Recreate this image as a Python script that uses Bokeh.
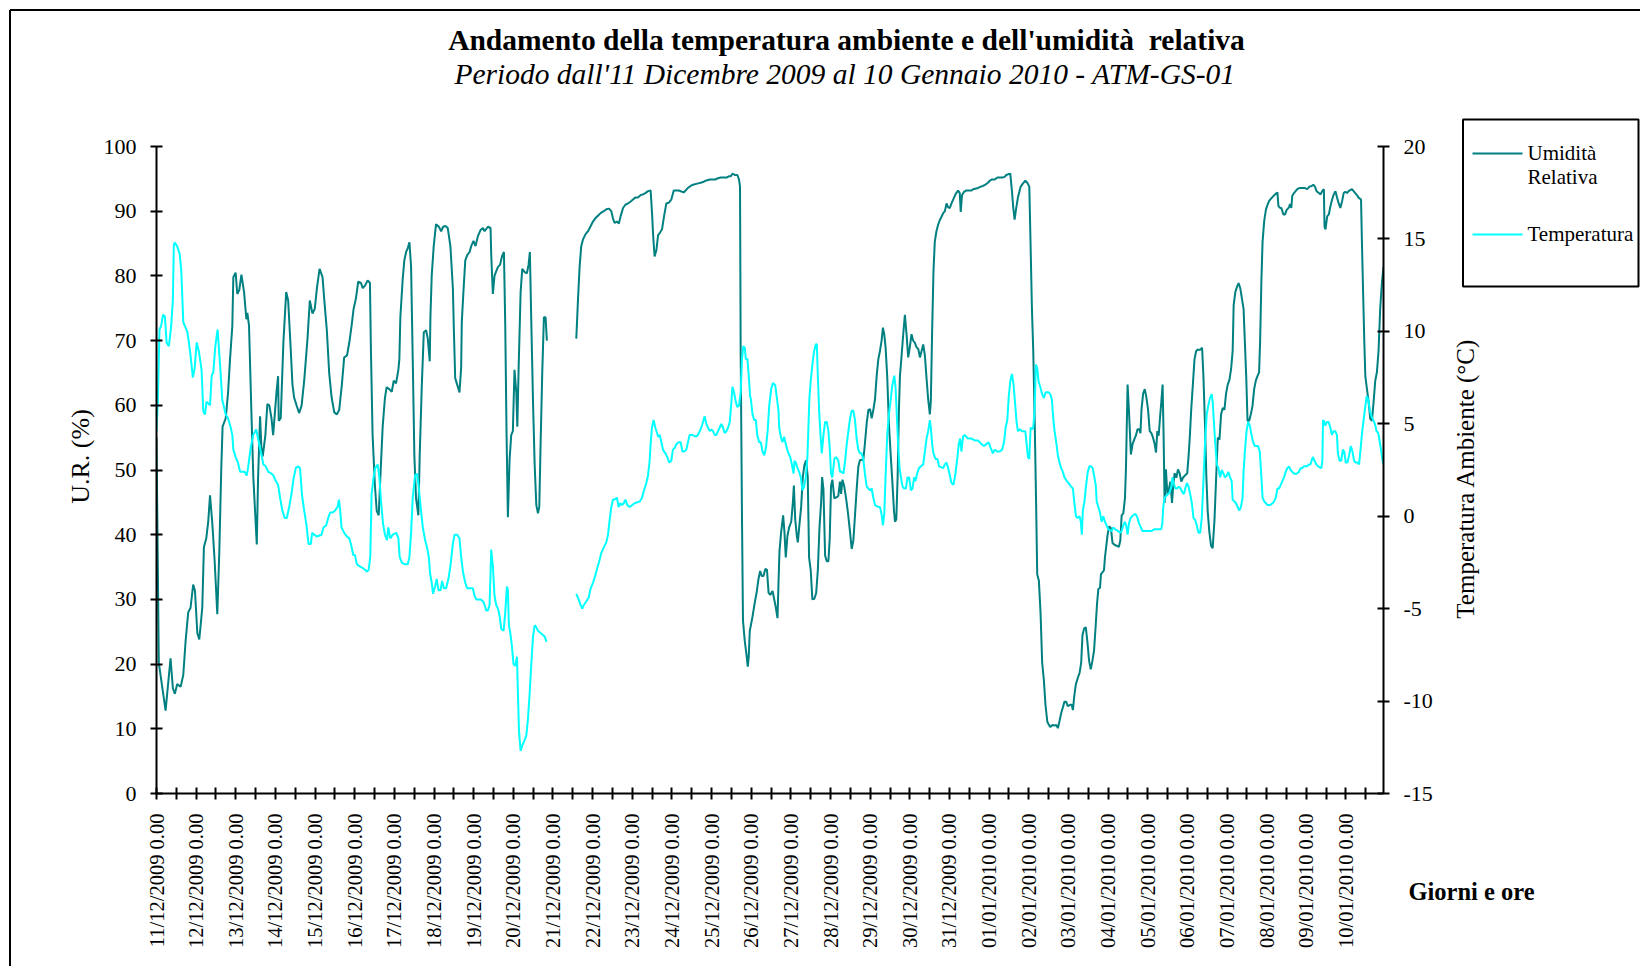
import numpy as np
from bokeh.plotting import figure
from bokeh.models import Range1d, LinearAxis, FixedTicker
from bokeh.core.properties import value
from bokeh.embed import file_html
from bokeh.resources import INLINE

# ---------------- data (hours from 11/12/2009 0.00, value) ----------------
# Relative humidity (%)
rh_part1 = [(0,55),(1.4,20.2),(5.5,12.8),(8.5,20.9),(9.9,16.3),(11.1,15.4),(12.5,16.9),(14.6,16.5),(16.2,18.3),(17.6,23.5),(19.2,28.0),(20.6,28.7),(22.2,32.3),(23.3,31.3),(24.7,24.8),(25.9,23.8),(27.7,28.7),(28.7,38.1),(30.1,39.4),(31.3,42.0),(32.4,46.1),(33.8,41.7),(35.2,35.9),(36.8,27.7),(38.0,37.2),(39.2,50.2),(40.0,56.7),(41.9,58.0),(43.3,61.9),(44.5,67.1),(45.9,72.3),(46.5,79.8),(47.9,80.5),(48.9,77.2),(50.1,77.8),(51.4,80.2),(53.0,77.5),(54.4,73.3),(55.0,74.3),(56.0,72.3),(57.4,59.3),(58.6,48.9),(60.7,38.5),(61.5,48.9),(62.7,58.3),(63.5,53.4),(64.3,52.1),(65.9,55.4),(67.1,60.2),(68.3,60.0),(69.6,58.0),(70.6,55.4),(71.8,59.3),(72.8,62.5),(73.6,64.5),(74.0,57.6),(75.2,58.0),(76.8,69.7),(78.5,77.5),(79.7,76.2),(81.3,68.4),(82.3,63.2),(83.3,61.2),(84.9,59.9),(86.3,58.8),(87.8,59.9),(89.4,63.8),(91.4,70.3),(92.8,76.2),(94.4,74.2),(95.8,74.9),(97.1,78.1),(98.7,81.1),(100.5,79.8),(101.5,76.5),(103.1,71.6),(104.5,65.1),(106.0,61.2),(107.6,58.9),(109.2,58.6),(110.6,59.3),(112.2,63.2),(113.6,67.4),(115.3,67.7),(116.7,69.7),(118.1,72.3),(119.3,74.9),(120.7,76.5),(122.1,79.1),(123.8,78.9),(124.8,78.1),(126.2,78.5),(127.8,79.3),(129.2,78.9),(129.8,68.4),(130.8,55.4),(132.2,47.6),(133.3,43.7),(134.5,43.0),(135.5,48.9),(136.9,56.7),(138.3,61.2),(139.3,62.8),(140.9,62.5),(142.4,62.1),(143.6,63.8),(145.0,63.4),(146.4,65.5),(147.0,67.1),(147.6,73.6),(149.0,79.4),(150.0,82.4),(151.1,83.7),(152.1,84.3),(153.1,85.2),(154.1,81.4),(155.1,67.1),(156.1,52.1),(157.1,45.6),(158.5,43.0),(159.3,52.1),(160.6,63.2),(161.8,71.3),(163.2,71.6),(164.2,70.3),(165.4,66.8),(165.8,73.6),(166.6,80.1),(167.8,84.6),(169.2,88.0),(170.9,87.6),(172.3,86.9),(173.5,87.6),(174.9,87.7),(176.3,87.4),(177.9,84.6),(179.4,78.1)]
rh_part2 = [(180,71.6),(180.8,64.2),(182.0,63.2),(183.4,62.0),(184.4,65.8),(184.8,72.9),(185.9,78.1),(186.9,82.4),(188.1,83.2),(189.5,83.7),(190.5,84.6),(191.9,85.4),(193.1,84.6),(194.5,86.1),(196.2,87.1),(197.6,87.4),(198.6,86.9),(200.6,87.6),(202.2,87.4),(202.6,83.3),(203.6,77.2),(204.6,80.0),(205.6,80.7),(206.7,81.4),(207.9,81.7),(209.1,83.0),(210.3,83.7),(211.1,72.3),(211.9,55.4),(212.7,42.7),(213.7,51.5),(214.7,55.4),(215.7,56.0),(216.7,65.5),(217.8,61.9),(218.4,56.7),(219.2,65.8),(220.4,77.5),(221.4,81.1),(222.8,80.6),(224.2,80.4),(225.2,81.7),(226.0,83.7),(226.8,73.6),(227.9,60.6),(228.9,50.8),(229.9,44.6),(230.9,43.3),(231.7,44.3),(232.5,54.1),(233.5,65.1),(234.5,73.6),(235.5,73.6),(236.3,70.0)]
rh_part3 = [(254.1,70.3),(255.1,76.2),(256.1,81.4),(257.1,84.6),(258.1,85.6),(259.8,86.5),(261.2,86.9),(262.6,87.6),(264.2,88.4),(265.6,88.9),(267.2,89.3),(268.8,89.7),(270.7,90.0),(272.3,90.3),(273.9,90.4),(275.3,90.0),(276.3,88.9),(277.3,88.2),(278.7,88.4),(279.9,88.1),(280.9,89.2),(282.4,90.5),(283.8,91.0),(285.4,91.2),(287.0,91.5),(288.4,91.8),(289.8,92.1),(291.4,92.1),(293.1,92.5),(294.5,92.6),(295.9,92.8),(297.5,93.1),(299.1,93.2),(299.9,89.9),(300.7,85.9),(301.5,83.0),(302.6,84.0),(303.6,86.3),(304.8,86.7),(306.0,87.2),(307.2,89.2),(308.6,91.2),(310.0,91.3),(311.6,91.8),(313.1,93.2),(316.1,93.2),(319.1,92.9),(321.7,93.6),(323.3,93.9),(324.8,94.1),(327.8,94.3),(329.4,94.4),(330.8,94.5),(332.2,94.7),(335.1,94.9),(338.3,94.9),(339.9,95.1),(341.5,95.2),(345.0,95.2),(346.4,95.4),(347.6,95.4),(348.6,95.8),(350.0,95.6),(351.6,95.6),(352.6,94.9),(353.2,93.8),(353.6,68.4),(354.4,42.4),(355.0,26.7),(356.1,23.5),(357.1,21.5),(357.9,19.6),(358.5,21.2),(359.1,25.1)]
rh_part4 = [(360.8,27.4),(362.0,29.3),(363.4,31.3),(364.4,33.2),(365.4,34.4),(366.4,33.6),(367.4,33.6),(368.5,34.7),(369.5,34.6),(370.5,31.0),(371.5,30.7),(372.9,31.3),(373.9,30.0),(374.9,28.7),(375.9,27.1),(376.5,32.6),(377.1,37.5),(378.1,40.4),(379.3,43.0),(380.1,40.4),(380.9,36.5),(381.9,39.8),(382.9,41.1),(384.2,42.0),(385.2,45.0),(385.8,47.6),(386.6,42.4),(387.6,39.8),(388.2,38.8),(389.0,41.1),(390.2,44.3),(391.2,48.9),(392.2,50.8),(393.2,51.5),(394.2,48.9),(395.0,36.5),(396.0,34.5),(397.0,30.0),(398.2,30.1),(399.3,31.0),(400.3,34.5),(401.3,41.1),(402.3,45.0),(402.9,48.9),(403.7,47.0),(404.7,36.8),(405.7,35.9),(406.7,35.9),(407.5,39.4),(408.3,47.6),(409.1,48.5),(410.3,45.6),(411.7,45.8),(412.7,46.0),(413.7,48.2),(414.4,46.3),(415.2,48.5),(416.2,47.6),(417.4,45.6),(418.4,43.7),(419.8,40.4),(420.8,37.8),(421.8,39.1),(422.8,43.0),(423.8,47.0),(424.8,50.5),(425.8,51.5),(426.8,51.6),(427.8,51.5),(428.8,54.1),(429.9,57.3),(430.9,59.3),(431.9,59.4),(432.9,58.0),(433.9,59.3),(434.9,60.9),(435.9,64.5),(436.9,67.1),(437.9,68.4),(438.9,70.0),(439.7,72.0),(440.5,71.0),(441.3,69.0),(442.3,64.5),(443.3,57.3),(444.3,52.8),(445.4,48.2),(446.4,43.7),(447.0,42.0),(447.8,42.4),(448.6,48.9),(449.4,59.3),(450.0,64.5),(451.0,67.7),(452.0,71.0),(453.0,74.0),(454.0,71.0),(455.0,67.4),(456.0,69.0),(457.0,71.0),(458.0,70.0),(459.0,69.7),(460.0,69.0),(461.1,68.7),(462.1,67.4),(463.1,68.4),(464.1,69.4),(465.1,67.7),(466.1,64.2),(467.1,60.9),(468.1,58.6),(468.7,60.6),(469.5,71.6),(470.3,80.7),(471.1,85.3),(472.1,86.9),(473.1,87.9),(474.1,88.6),(475.1,89.1),(476.2,89.7),(477.2,90.0),(478.2,91.2),(479.2,90.6),(480.2,90.5),(481.2,91.2),(482.2,91.8),(483.6,92.6),(485.2,93.2),(486.2,92.8),(486.8,89.9),(487.6,92.5),(488.8,93.0),(490.2,93.2),(493.3,93.2),(494.3,93.4),(497.3,93.6),(498.9,93.8),(500.3,93.9),(501.7,94.1),(503.3,94.4),(504.3,94.7),(505.7,94.9),(507.4,94.9),(509.0,95.2),(512.0,95.2),(513.4,95.3),(514.4,95.6),(515.4,95.7),(516.8,95.8),(517.8,93.1),(518.6,90.5),(519.4,88.7),(520.4,90.5),(521.4,92.1),(523.1,93.8),(524.5,94.3),(525.9,94.7),(527.1,94.4),(528.3,93.8),(529.1,84.6),(529.9,74.9),(530.7,68.4),(531.5,58.6),(532.5,43.7),(533.1,33.9),(534.1,32.9),(535.1,28.0),(536.1,20.2),(537.1,17.6),(538.1,13.7),(539.2,11.1)]
rh_part5 = [(540,10.7),(541.0,10.3),(542.4,10.6),(543.6,10.5),(544.6,10.6),(545.6,10.1),(546.6,11.2),(547.6,12.4),(548.6,13.3),(549.6,14.2),(550.6,14.2),(551.6,13.5),(553.0,13.7),(554.0,13.7),(554.7,12.9),(555.5,15.0),(556.5,16.9),(557.7,17.9),(558.7,18.6),(559.7,20.2),(560.5,24.5),(561.5,25.5),(562.5,25.7),(563.5,23.4),(564.5,20.5),(565.5,19.2),(566.5,20.5),(567.5,22.1),(568.5,26.0),(569.3,29.3),(570.1,31.6),(571.1,31.8),(571.7,33.9),(572.7,34.2),(573.5,34.5),(574.1,36.5),(575.1,38.7),(575.7,40.0),(576.7,41.3),(577.7,41.0),(578.7,38.7),(580.1,38.4),(581.1,38.3),(582.5,38.1),(583.4,39.1),(584.2,43.0),(585.2,43.3),(586.2,45.6),(586.8,50.1),(587.8,63.2),(588.6,59.3),(589.8,52.4),(590.8,54.0),(591.8,54.7),(592.8,55.3),(593.8,56.3),(594.8,56.3),(595.6,55.7),(596.2,59.3),(597.2,61.8),(598.2,62.5),(599.2,61.2),(600.2,59.3),(601.2,56.0),(602.2,55.7),(603.2,55.0),(604.2,54.0),(605.0,52.7),(605.8,56.0),(606.6,55.3),(607.4,58.0),(608.2,60.5),(609.0,63.2),(609.6,55.3),(610.2,44.9),(611.0,50.1),(611.9,46.2),(612.7,46.9),(613.7,48.2),(614.7,44.9),(615.5,47.9),(616.3,49.5),(617.3,48.8),(618.3,50.1),(619.3,49.5),(620.3,48.2),(621.3,48.8),(622.7,49.2),(623.9,49.5),(624.7,52.1),(625.5,55.3),(626.3,59.3),(627.3,63.2),(628.3,67.1),(629.3,68.4),(630.3,68.6),(631.9,68.6),(632.9,68.9),(633.7,64.5),(634.7,56.6),(635.5,48.8),(636.3,43.6),(637.3,40.4),(638.3,38.3),(639.3,37.9),(640.4,42.3),(641.4,48.8),(642.4,55.0),(643.4,54.7),(644.4,58.6),(645.4,59.6),(646.4,59.3),(647.4,61.8),(648.4,63.2),(649.4,63.9),(650.4,65.5),(651.4,68.4),(652.0,75.5),(653.0,77.5),(654.0,78.3),(655.0,78.9),(656.0,78.1),(657.0,76.5),(658.0,74.9),(658.8,69.7),(659.6,64.5),(660.4,57.6),(661.4,57.6),(662.4,58.6),(663.4,59.9),(664.4,62.5),(665.4,63.8),(666.4,64.5),(667.4,65.1),(668.0,69.7),(668.8,79.4),(669.5,85.3),(670.5,88.5),(671.5,90.2),(672.5,91.0),(673.5,91.6),(674.5,91.9),(675.9,92.3),(677.1,92.6),(678.5,92.9),(679.1,90.8),(680.1,90.5),(680.9,90.5),(682.1,89.5),(683.1,89.5),(684.1,90.2),(685.5,90.6),(686.1,91.1),(686.9,90.5),(687.5,92.4),(688.5,92.8),(689.5,93.1),(690.5,93.4),(692.1,93.6),(694.9,93.6),(696.5,93.4),(697.9,93.8),(699.2,93.9),(700.2,94.1),(701.2,93.8),(702.2,93.1),(703.6,92.8),(704.6,92.6),(705.6,93.1),(706.6,93.4),(707.0,87.6),(707.6,87.2),(708.6,89.2),(709.6,89.5),(710.6,90.8),(711.6,91.8),(712.6,92.6),(713.6,93.1),(714.6,92.1),(715.6,91.2),(716.6,90.5),(717.6,91.5),(718.6,92.8),(719.6,93.0),(720.6,92.8),(721.6,93.1),(723.6,93.4),(724.6,93.1),(725.6,92.8),(726.6,92.5),(727.6,92.1),(729.1,91.8),(729.7,84.6),(730.3,78.1),(731.1,69.7),(731.7,64.5),(732.7,62.5),(733.7,60.5),(734.7,57.9),(735.7,57.6),(736.7,60.5),(737.7,63.8),(738.7,65.1),(739.7,68.4),(740.7,74.9),(741.7,78.8),(742.7,81.4)]

# Ambient temperature (°C)
t_part1 = [(0,4.6),(0.8,6.2),(1.8,10.1),(2.8,10.3),(4.0,10.9),(5.1,10.8),(6.1,9.4),(7.5,9.2),(8.9,10.3),(9.9,11.7),(10.5,14.7),(11.1,14.8),(12.5,14.6),(14.0,14.2),(15.0,13.3),(16.2,10.5),(17.6,10.2),(18.6,10.0),(19.6,9.4),(20.6,8.7),(22.0,7.5),(23.1,8.0),(24.3,9.4),(25.7,8.9),(27.3,7.9),(28.3,5.7),(29.3,5.5),(30.3,6.2),(32.4,6.0),(33.4,7.6),(34.4,7.8),(35.6,9.2),(37.0,10.1),(38.4,8.3),(39.8,6.3),(41.9,5.5),(43.3,5.3),(44.9,4.8),(45.9,4.4),(46.5,3.6),(47.9,3.2),(49.3,2.9),(50.6,2.4),(52.0,2.4),(53.4,2.4),(54.6,2.2),(55.4,2.6),(57.0,3.7),(58.6,4.4),(60.3,4.7),(61.5,4.2),(63.1,3.5),(64.7,2.8),(66.1,2.7),(67.7,2.4),(69.6,2.3),(70.8,2.2),(72.2,1.9),(73.6,1.7),(74.8,1.0),(76.2,0.3),(77.6,-0.1),(78.9,-0.1),(80.3,0.5),(81.7,1.2),(82.9,2.0),(84.3,2.6),(85.7,2.7),(86.9,2.6),(88.0,1.2),(89.4,0.3),(90.8,-0.5),(92.0,-1.5),(93.4,-1.5),(94.2,-0.9),(95.4,-1.0),(97.1,-1.1),(99.9,-1.0),(101.1,-0.6),(102.7,-0.5),(103.9,-0.1),(105.1,0.2),(106.6,0.2),(108.0,0.3),(109.6,0.5),(110.4,0.9),(111.2,0.3),(112.0,-0.6),(113.6,-0.9),(115.3,-1.1),(116.7,-1.2),(117.7,-1.5),(119.1,-2.1),(120.1,-2.1),(121.3,-2.6),(122.7,-2.7),(124.8,-2.8),(126.2,-2.9),(127.4,-3.0),(128.4,-2.9),(129.4,-2.2),(130.2,1.2),(131.4,2.1),(132.4,2.6),(133.9,2.8),(134.9,2.1),(135.9,0.8),(137.1,-0.4),(138.3,-1.0),(139.5,-1.3),(140.3,-0.6),(141.5,-1.2),(143.0,-1.0),(145.2,-0.9),(146.4,-1.2),(147.2,-2.2),(148.4,-2.5),(150.0,-2.6),(152.1,-2.6),(153.1,-2.2),(154.1,-0.9),(155.1,1.0),(156.5,2.2),(157.7,2.3),(158.7,1.6),(160.1,0.3),(161.2,-0.6),(162.6,-1.3),(163.8,-1.7),(164.8,-2.2),(165.6,-3.1),(166.6,-3.6),(167.4,-4.2),(168.6,-3.8),(169.6,-3.4),(170.7,-4.0),(171.9,-4.0),(172.9,-3.5),(173.9,-3.9),(175.3,-3.9),(176.7,-3.4),(177.9,-2.7),(179.4,-1.5)]
t_part2 = [(180.4,-1.0),(182.0,-1.0),(183.4,-1.2),(184.4,-2.2),(185.5,-3.0),(186.9,-3.6),(188.1,-3.9),(191.5,-3.9),(192.5,-4.3),(193.5,-4.5),(196.2,-4.5),(197.6,-4.6),(198.6,-4.8),(199.6,-5.1),(200.6,-5.1),(201.6,-4.8),(202.2,-3.1),(202.6,-1.8),(203.6,-2.7),(204.6,-4.3),(205.6,-4.8),(206.7,-5.0),(207.7,-5.4),(208.7,-6.1),(210.1,-6.2),(211.1,-5.2),(212.1,-3.8),(212.7,-4.0),(213.3,-5.9),(214.3,-6.4),(215.1,-7.0),(216.1,-8.0),(217.1,-8.1),(218.2,-7.6),(218.8,-9.7),(219.4,-11.6),(220.4,-12.7),(221.4,-12.4),(222.4,-12.2),(223.8,-11.9),(224.8,-11.0),(225.8,-9.7),(226.8,-8.1),(227.9,-6.5),(228.9,-5.9),(229.9,-6.0),(230.9,-6.2),(232.3,-6.3),(233.5,-6.4),(234.9,-6.5),(236.1,-6.8)]
t_part3 = [(254.1,-4.2),(255.5,-4.5),(256.7,-4.8),(257.7,-5.0),(258.7,-4.8),(260.2,-4.6),(261.6,-4.4),(262.8,-3.9),(264.2,-3.6),(265.6,-3.2),(266.8,-2.8),(267.8,-2.5),(269.2,-2.0),(270.7,-1.7),(272.3,-1.4),(273.3,-1.0),(274.3,-0.2),(275.3,0.5),(276.3,0.9),(277.3,0.9),(278.7,1.0),(279.7,0.5),(280.7,0.7),(281.8,0.6),(282.8,0.7),(283.8,0.9),(285.0,0.6),(286.4,0.5),(289.4,0.7),(292.5,0.8),(293.9,1.0),(295.1,1.4),(296.5,1.8),(297.5,2.2),(298.5,3.0),(299.1,3.9),(299.9,4.8),(300.9,5.2),(301.9,4.8),(303.0,4.5),(303.6,4.3),(304.6,4.4),(305.6,4.0),(306.6,3.6),(308.0,3.4),(309.2,3.2),(310.4,2.9),(311.6,3.0),(312.6,3.6),(313.7,3.7),(314.7,3.9),(316.1,4.0),(317.3,4.0),(318.3,3.5),(319.3,3.5),(320.7,3.6),(321.7,4.0),(322.7,4.4),(324.2,4.4),(326.4,4.3),(327.8,4.4),(328.8,4.6),(329.8,4.8),(330.8,5.1),(331.8,5.4),(332.8,5.0),(333.8,4.8),(334.9,4.6),(335.9,4.7),(336.9,4.6),(337.9,4.4),(338.9,4.4),(339.9,4.6),(340.9,4.8),(341.9,5.0),(342.9,4.8),(343.9,4.5),(345.0,4.6),(346.0,4.8),(347.0,5.1),(348.0,6.2),(348.6,7.0),(349.6,6.7),(350.6,6.2),(351.6,5.9),(352.6,6.0),(353.6,6.7),(354.4,8.5),(355.2,9.2),(356.1,9.1),(356.7,8.5),(357.7,8.5),(358.5,7.6),(359.3,6.5)]
t_part4 = [(359.8,6.3),(360.8,5.5),(361.8,5.2),(362.8,5.2),(363.6,4.4),(364.8,4.0),(365.8,4.0),(366.8,3.5),(367.9,3.3),(368.9,3.7),(369.9,4.6),(370.9,6.0),(372.1,6.9),(373.1,7.2),(374.5,7.1),(375.5,6.4),(376.5,5.7),(376.9,4.8),(377.9,4.3),(378.9,4.0),(379.9,4.3),(380.9,3.9),(382.1,3.5),(383.6,3.2),(384.6,2.8),(385.6,2.3),(386.2,3.0),(387.0,2.9),(388.0,2.6),(389.0,2.4),(390.0,2.1),(391.0,1.4),(392.0,1.6),(393.0,2.1),(394.0,3.2),(394.6,4.8),(395.2,6.4),(396.0,7.3),(397.0,8.2),(398.0,8.9),(399.1,9.3),(399.7,9.3),(400.3,7.6),(401.1,5.7),(401.9,4.4),(402.7,3.4),(403.7,4.4),(404.7,5.1),(405.7,5.1),(406.7,4.6),(407.5,3.7),(408.3,2.3),(409.1,2.1),(410.3,3.1),(411.3,3.2),(412.7,3.0),(413.7,2.4),(414.8,2.4),(415.8,2.3),(416.8,3.0),(417.8,3.9),(418.8,4.6),(419.8,5.3),(420.8,5.7),(421.8,5.7),(422.8,5.2),(423.8,4.2),(424.8,3.6),(425.8,3.4),(426.8,3.4),(427.8,3.1),(428.8,2.3),(429.9,1.6),(430.9,1.5),(431.9,1.4),(432.9,1.5),(433.9,1.0),(434.9,0.6),(436.9,0.5),(437.9,0.5),(438.9,0.1),(439.7,-0.5),(440.5,0.1),(441.3,2.1),(442.3,4.4),(443.3,5.5),(444.3,6.2),(445.4,7.1),(446.6,7.6),(447.4,6.9),(448.2,5.3),(449.0,3.7),(449.8,2.6),(450.6,2.1),(451.6,1.6),(452.6,1.5),(453.6,1.5),(454.6,2.1),(455.6,2.1),(456.6,1.4),(457.6,1.5),(458.6,2.1),(459.4,1.9),(460.4,2.3),(461.5,2.6),(462.7,2.7),(464.1,2.8),(465.1,3.5),(466.1,4.2),(467.1,4.6),(468.1,5.2),(468.7,4.8),(469.5,3.9),(470.3,3.4),(471.5,3.1),(472.7,3.1),(473.7,2.7),(476.2,2.6),(477.2,2.8),(478.2,2.9),(479.2,2.6),(480.2,2.2),(481.2,1.8),(482.4,1.7),(483.6,2.3),(484.8,3.2),(485.6,3.9),(486.4,4.2),(487.2,3.5),(488.2,4.3),(489.2,4.4),(491.2,4.2),(493.3,4.2),(495.3,4.1),(497.3,4.1),(499.3,3.9),(500.9,3.8),(502.3,3.9),(503.7,4.0),(504.9,3.7),(506.3,3.4),(507.4,3.6),(508.8,3.5),(510.4,3.5),(511.8,3.6),(513.0,4.0),(514.0,4.8),(515.0,5.2),(515.8,6.4),(516.8,7.3),(517.8,7.7),(518.8,7.1),(519.8,6.0),(520.6,5.1),(521.4,4.6),(522.6,4.7),(523.9,4.6),(525.9,4.6),(526.7,3.9),(527.5,3.2),(528.3,3.1),(529.1,4.8),(529.9,4.7),(530.7,4.8),(531.5,5.7),(532.3,8.2),(533.1,8.0),(533.9,7.3),(534.9,7.0),(536.1,6.6),(537.1,6.4),(538.2,6.7),(539.2,6.7)]
t_part5 = [(540,6.7),(541.0,6.6),(542.0,6.3),(542.6,5.5),(543.6,4.6),(544.6,4.0),(545.6,3.3),(546.6,2.9),(547.6,2.6),(548.6,2.4),(549.6,2.1),(551.0,1.9),(552.0,1.8),(553.6,1.6),(554.7,1.5),(555.5,0.8),(556.5,0.0),(557.5,-0.1),(558.7,0.0),(559.5,-0.3),(560.1,-1.0),(560.7,0.3),(561.7,0.8),(562.7,1.7),(563.7,2.4),(564.7,2.7),(565.7,2.7),(566.7,2.6),(567.7,2.1),(568.5,1.7),(569.1,0.8),(570.1,0.5),(571.1,0.2),(572.1,-0.3),(573.1,0.0),(574.1,-0.3),(575.1,-0.5),(576.1,-0.7),(578.1,-0.8),(579.1,-0.6),(580.1,-0.7),(582.1,-0.8),(583.2,-0.9),(584.2,-0.8),(585.2,-0.5),(586.2,-0.3),(587.2,-0.6),(587.8,-1.0),(588.6,-0.4),(589.6,-0.1),(590.6,0.0),(591.8,0.1),(592.8,0.1),(593.8,-0.1),(594.8,-0.4),(595.8,-0.6),(596.8,-0.8),(599.8,-0.8),(602.2,-0.8),(604.2,-0.7),(606.2,-0.7),(608.2,-0.7),(608.8,-0.4),(609.4,0.5),(610.2,1.0),(611.2,1.1),(612.3,1.2),(613.3,1.3),(614.3,1.6),(614.9,2.1),(615.7,1.8),(616.7,1.5),(617.7,1.5),(618.7,1.6),(619.9,1.5),(620.9,1.3),(621.9,1.2),(622.7,1.5),(623.7,1.8),(624.7,1.6),(625.7,1.2),(626.7,0.7),(627.7,-0.1),(628.7,-0.2),(629.7,-0.5),(630.7,-0.9),(631.7,-0.9),(632.7,-0.1),(633.7,1.9),(634.7,4.0),(635.7,5.5),(636.7,6.0),(637.7,6.4),(638.7,6.6),(639.3,6.2),(639.9,5.3),(640.8,4.0),(641.8,2.8),(642.8,2.6),(643.8,2.1),(644.8,2.5),(645.8,2.3),(646.8,2.1),(647.8,2.2),(648.8,2.4),(649.8,2.1),(650.8,1.9),(651.4,0.9),(652.4,0.8),(653.4,0.7),(654.4,0.5),(655.4,0.3),(656.4,0.5),(657.4,1.0),(658.0,2.4),(658.8,3.5),(659.8,4.6),(660.8,5.1),(661.8,4.9),(662.8,4.4),(663.8,4.0),(664.8,3.8),(666.8,3.8),(667.8,3.5),(668.8,2.1),(669.5,1.0),(670.5,0.8),(671.5,0.7),(672.5,0.6),(674.1,0.6),(675.5,0.7),(676.5,0.8),(677.5,1.0),(678.5,1.5),(679.5,1.5),(680.5,1.7),(681.5,1.9),(682.5,2.1),(683.5,2.4),(684.5,2.6),(685.5,2.7),(686.5,2.5),(687.5,2.4),(688.5,2.3),(690.1,2.3),(691.5,2.4),(692.5,2.6),(693.5,2.6),(694.5,2.7),(696.5,2.7),(697.5,2.8),(698.5,2.8),(699.5,3.1),(700.1,3.2),(700.9,3.0),(702.1,2.8),(703.1,2.7),(705.1,2.6),(705.7,3.0),(706.1,5.2),(706.9,5.1),(707.5,4.9),(708.5,5.1),(709.5,5.1),(710.5,4.8),(711.5,4.4),(712.5,4.6),(713.5,4.6),(714.5,4.4),(715.1,3.4),(716.1,3.0),(717.1,3.0),(718.1,3.6),(718.9,3.5),(719.9,2.9),(720.9,2.9),(721.9,3.3),(722.9,3.8),(723.9,3.5),(724.9,3.0),(725.9,2.9),(726.9,2.9),(727.9,2.8),(728.9,3.7),(729.7,4.5),(730.5,5.1),(731.5,5.8),(732.5,6.5),(733.5,6.3),(734.5,5.7),(735.5,5.4),(736.5,5.2),(737.5,5.0),(738.5,4.6),(739.5,4.5),(740.5,4.0),(741.5,3.4),(742.5,2.8)]

day_labels = ["11/12/2009 0.00", "12/12/2009 0.00", "13/12/2009 0.00", "14/12/2009 0.00",
              "15/12/2009 0.00", "16/12/2009 0.00", "17/12/2009 0.00", "18/12/2009 0.00",
              "19/12/2009 0.00", "20/12/2009 0.00", "21/12/2009 0.00", "22/12/2009 0.00",
              "23/12/2009 0.00", "24/12/2009 0.00", "25/12/2009 0.00", "26/12/2009 0.00",
              "27/12/2009 0.00", "28/12/2009 0.00", "29/12/2009 0.00", "30/12/2009 0.00",
              "31/12/2009 0.00", "01/01/2010 0.00", "02/01/2010 0.00", "03/01/2010 0.00",
              "04/01/2010 0.00", "05/01/2010 0.00", "06/01/2010 0.00", "07/01/2010 0.00",
              "08/01/2010 0.00", "09/01/2010 0.00", "10/01/2010 0.00"]
rh_ticks = [0, 10, 20, 30, 40, 50, 60, 70, 80, 90, 100]
t_ticks = [-15, -10, -5, 0, 5, 10, 15, 20]
last_hour = 742.7
series_names = ["Umidità", "Relativa", "Temperatura"]
title_text = "Andamento della temperatura ambiente e dell'umidità\u00a0 relativa"
subtitle_text = "Periodo dall'11 Dicembre 2009 al 10 Gennaio 2010 - ATM-GS-01"
caption_text = "Giorni e ore"
left_axis_title = "U.R. (%)"
right_axis_title = "Temperatura Ambiente (°C)"
RH_COLOR, T_COLOR = "#008080", "#00FFFF"

def join(parts):
    hs, vs = [], []
    for i, part in enumerate(parts):
        if i > 0 and part[0][0] - hs[-1] > 6:
            hs.append(np.nan); vs.append(np.nan)   # missing readings -> gap
        hs += [q[0] for q in part]
        vs += [q[1] for q in part]
    return np.array(hs, dtype=float), np.array(vs, dtype=float)

rh_hours, rh_values = join([rh_part1, rh_part2, rh_part3, rh_part4, rh_part5])
t_hours, t_values = join([t_part1, t_part2, t_part3, t_part4, t_part5])

# ---------------- main chart ----------------
SERIF = "Liberation Serif"
W, H = 1640, 966
p = figure(width=W, height=H, output_backend="svg", toolbar_location=None,
           x_range=Range1d(0, last_hour), y_range=Range1d(0, 100),
           min_border_left=156, min_border_right=W - 1383,
           min_border_top=146, min_border_bottom=H - 793)
p.extra_y_ranges = {"temp": Range1d(-15, 20)}
p.outline_line_color = None
p.xgrid.visible = False
p.ygrid.visible = False
p.background_fill_color = "white"
p.border_fill_color = "white"
p.title.visible = False

p.line(rh_hours, rh_values, line_color=RH_COLOR, line_width=2)
p.line(t_hours, t_values, line_color=T_COLOR, line_width=2, y_range_name="temp")

def style_axis(ax, size):
    ax.axis_line_color = "black"
    ax.axis_line_width = 2
    ax.major_tick_line_color = "black"
    ax.major_tick_line_width = 2
    ax.major_tick_in = 6
    ax.major_tick_out = 6
    ax.minor_tick_line_color = None
    ax.major_label_text_font = SERIF
    ax.major_label_text_font_size = size
    ax.major_label_text_color = "black"

tick_hours = list(range(0, int(last_hour), 12))
xa = p.xaxis[0]
xa.ticker = FixedTicker(ticks=tick_hours)
xa.major_label_overrides = {h: (day_labels[h // 24] if h % 24 == 0 else "") for h in tick_hours}
xa.major_label_orientation = np.pi / 2
xa.major_label_standoff = 14
style_axis(xa, "20.5px")

ya = p.yaxis[0]
ya.ticker = FixedTicker(ticks=rh_ticks)
ya.major_label_standoff = 14
style_axis(ya, "22px")

ra = LinearAxis(y_range_name="temp", ticker=FixedTicker(ticks=t_ticks))
ra.major_label_overrides = {t: str(t) for t in t_ticks}
ra.major_label_standoff = 14
style_axis(ra, "22px")
p.add_layout(ra, "right")

# ---------------- overlay in page pixels: titles, axis titles, legend, caption, border ----------------
q = figure(width=W, height=H, output_backend="svg", toolbar_location=None,
           x_range=Range1d(0, W), y_range=Range1d(H, 0),
           x_axis_type=None, y_axis_type=None, min_border=0,
           styles={"position": "absolute", "left": "0px", "top": "0px"})
q.outline_line_color = None
q.background_fill_color = None
q.border_fill_color = None
q.grid.visible = False

# chart-area border (top and left edges)
q.multi_line(xs=[[9.5, W], [9.5, 9.5]], ys=[[9.5, 9.5], [9.5, H]], line_color="black", line_width=2)

q.text(x=[846], y=[39], text=[title_text], text_font=value(SERIF), text_font_style="bold",
       text_font_size="29.5px", text_align="center", text_baseline="alphabetic", text_color="black")
q.text(x=[844.5], y=[73], text=[subtitle_text], text_font=value(SERIF), text_font_style="italic",
       text_font_size="29.5px", text_align="center", text_baseline="alphabetic", text_color="black")
q.text(x=[1408], y=[891], text=[caption_text], text_font=value(SERIF), text_font_style="bold",
       text_font_size="24.5px", text_align="left", text_baseline="alphabetic", text_color="black")

# axis titles (rotated, reading upwards)
q.text(x=[80], y=[456], text=[left_axis_title], angle=np.pi / 2, text_font=value(SERIF),
       text_font_size="26px", text_align="center", text_baseline="alphabetic", text_color="black")
q.text(x=[1465], y=[478], text=[right_axis_title], angle=np.pi / 2, text_font=value(SERIF),
       text_font_size="25px", text_align="center", text_baseline="alphabetic", text_color="black")

# legend box
q.quad(left=[1462.5], right=[1638], top=[119], bottom=[286], fill_color="white",
       line_color="black", line_width=2)
q.segment(x0=[1472, 1472], x1=[1522, 1522], y0=[153, 234], y1=[153, 234],
          line_color=[RH_COLOR, T_COLOR], line_width=2)
q.text(x=[1527, 1527, 1527], y=[152.5, 176.5, 233.5], text=series_names, text_font=value(SERIF),
       text_font_size="21px", text_align="left", text_baseline="alphabetic", text_color="black")

open("out.html", "w").write(file_html([p, q], INLINE))
